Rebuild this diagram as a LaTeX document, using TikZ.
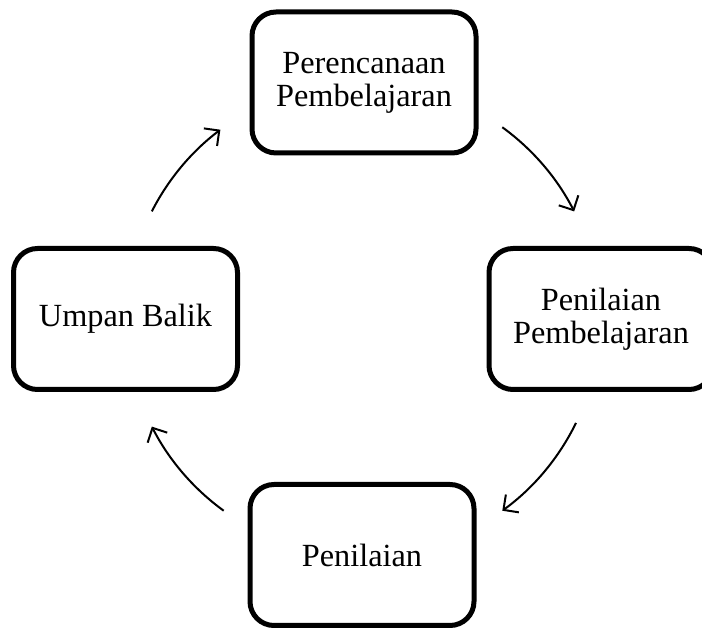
\documentclass[tikz,border=0pt]{standalone}
\usepackage{fontspec}
\setmainfont{Liberation Serif}
\usetikzlibrary{arrows.meta,calc}

\tikzset{
  stage/.style={draw=black, line width=5pt, rounded corners=24pt, fill=white,
    minimum width=224pt, minimum height=141pt, align=center, inner sep=0pt,
    font=\fontsize{32.3}{33}\selectfont},
  flow/.style={line width=2pt, -{Straight Barb[length=11pt,width=22pt,line width=2pt]}}
}

\begin{document}
\begin{tikzpicture}[x=1pt,y=1pt]
  \useasboundingbox (0,0) rectangle (702,628);

  % cycle stages
  \node[stage] (plan)   at (364,545.5) {Perencanaan\\Pembelajaran};
  \node[stage] (assess) at (601,309)   {Penilaian\\Pembelajaran};
  \node[stage] (grade)  at (362,73)    {Penilaian};
  \node[stage] (feed)   at (125.5,309) {Umpan Balik};

  % centre of the cycle
  \coordinate (hub) at (363,309);

  % clockwise arcs between the stages
  \draw[flow] ($(hub)+(54:237)$)   arc[start angle=54,   end angle=27,   radius=237];
  \draw[flow] ($(hub)+(-26:237)$)  arc[start angle=-26,  end angle=-54,  radius=237];
  \draw[flow] ($(hub)+(-126:237)$) arc[start angle=-126, end angle=-153, radius=237];
  \draw[flow] ($(hub)+(153:237)$)  arc[start angle=153,  end angle=127,  radius=237];
\end{tikzpicture}
\end{document}
